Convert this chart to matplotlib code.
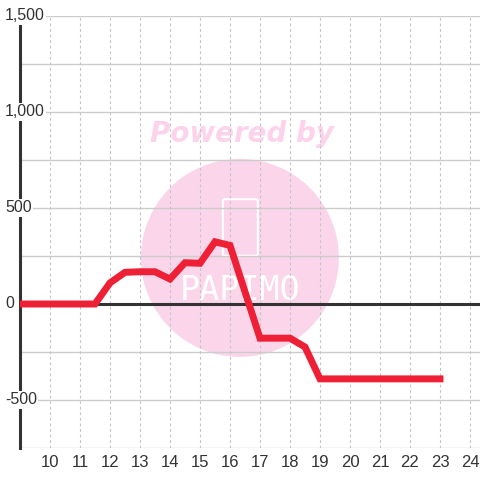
import matplotlib
matplotlib.use("Agg")
import matplotlib.pyplot as plt
from matplotlib.patches import Ellipse, FancyBboxPatch

# data
x_vals = [9, 11.5, 12, 12.5, 13, 13.5, 14, 14.5, 15, 15.5, 16, 17, 17.5, 18, 18.5, 19, 20, 21, 22, 23]
y_vals = [0, 0, 110, 165, 168, 168, 130, 215, 212, 324, 305, -178, -178, -178, -224, -390, -390, -390, -390, -390]
x_ticks = list(range(10, 25))
y_ticks = [-500, 0, 500, 1000, 1500]
y_grid = [-750, -500, -250, 0, 250, 500, 750, 1000, 1250, 1500]

plt.rcParams['font.family'] = ['Liberation Sans', 'DejaVu Sans']

fig = plt.figure(figsize=(4.8, 4.8), dpi=100)
ax = fig.add_axes([20 / 480, 32 / 480, 460 / 480, 432 / 480])
ax.set_xlim(9, 9 + 460 / 30)
ax.set_ylim(-750, 1500)

for s in ['top', 'right', 'bottom']:
    ax.spines[s].set_visible(False)
ax.spines['left'].set_color('#333333')
ax.spines['left'].set_linewidth(2.2)
ax.spines['left'].set_bounds(-750, 1460)
ax.spines['left'].set_zorder(2)

# grid
for g in y_grid:
    ax.axhline(g, color='#cccccc', lw=1, zorder=1)
for t in x_ticks:
    ax.axvline(t, color='#c4c4c4', lw=0.8, ls=(0, (2.5, 2.5)), zorder=1)
ax.axhline(0, color='#333333', lw=2.2, zorder=2)

# watermark
ax.add_patch(Ellipse((0.478, 0.44), 198 / 460, 198 / 432, transform=ax.transAxes,
                     facecolor='#fbd5ea', edgecolor='none', zorder=0.5))
ax.text(0.482, 0.727, 'Powered by', transform=ax.transAxes, ha='center', va='center',
        fontsize=20, fontweight='bold', fontstyle='italic', color='#fcd3ea',
        family='DejaVu Sans', zorder=0.6)
ax.add_patch(FancyBboxPatch((0.445, 0.449), 0.068, 0.123, boxstyle='round,pad=0.004',
                            transform=ax.transAxes, facecolor='none', edgecolor='white',
                            lw=1.5, zorder=0.6))
ax.text(0.478, 0.365, 'PAPIMO', transform=ax.transAxes, ha='center', va='center',
        fontsize=24, color='white', family='DejaVu Sans Mono', fontweight='light', zorder=0.6)

ax.plot(x_vals, y_vals, color='#ee2035', lw=5, solid_joinstyle='miter', zorder=3)

ax.set_xticks(x_ticks)
ax.set_xticklabels([str(t) for t in x_ticks])
ax.tick_params(axis='x', length=0, pad=5, labelsize=12, labelcolor='#333333')
ax.set_yticks([])

for v in y_ticks:
    ax.text(-15 / 460, v, f'{v:,}', transform=ax.get_yaxis_transform(), ha='left', va='center',
            fontsize=11.5, color='#333333', zorder=4,
            bbox=dict(facecolor='white', edgecolor='none', pad=1))

fig.savefig('out.png', dpi=100)
